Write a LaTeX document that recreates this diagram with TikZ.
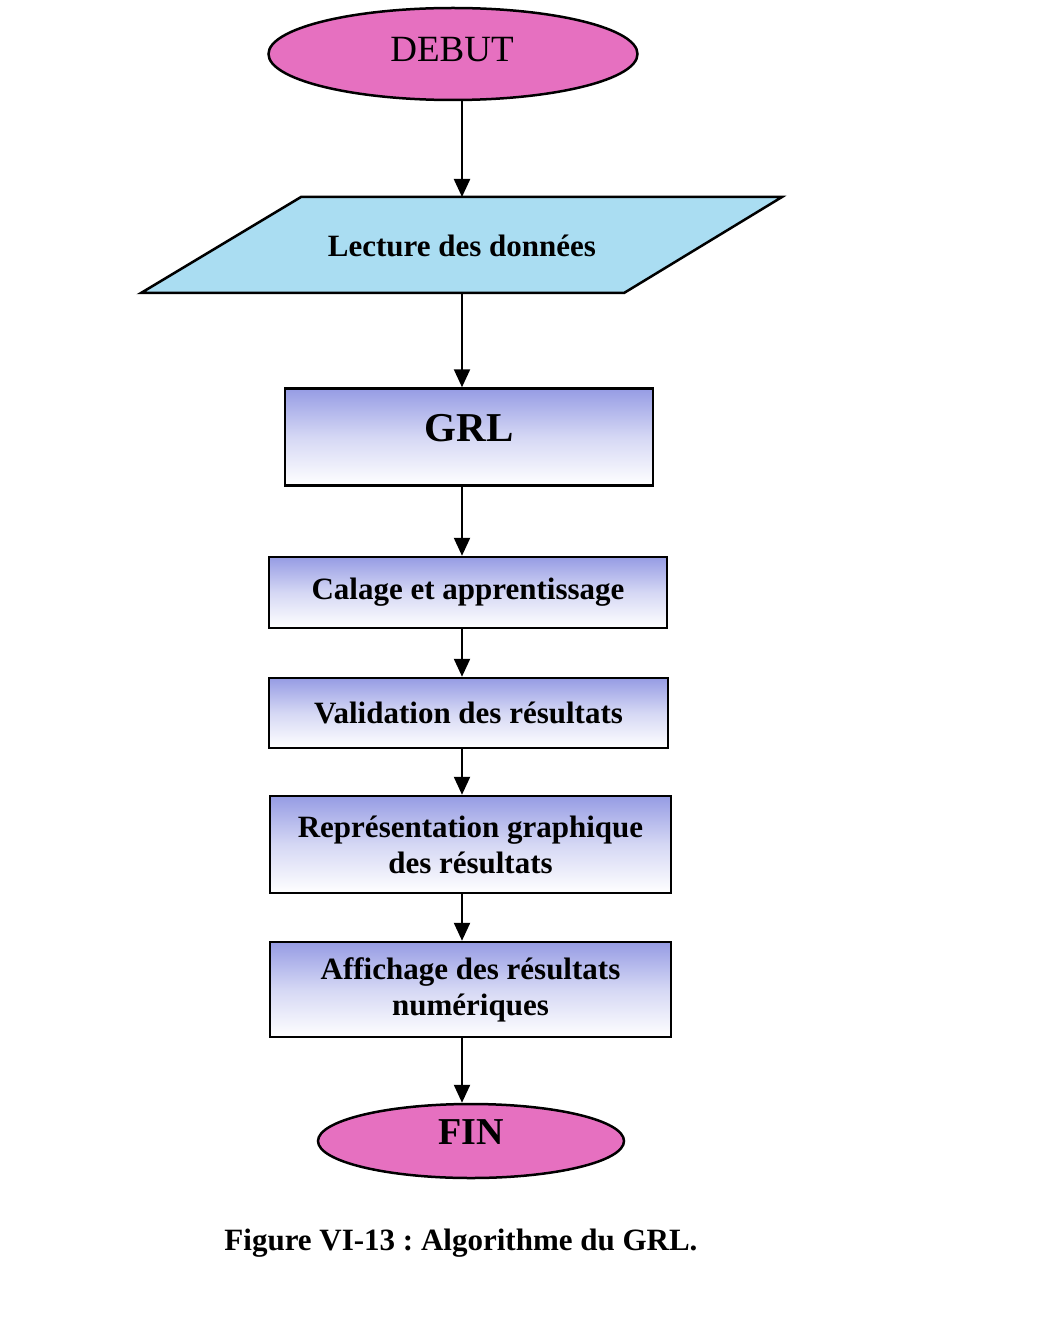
\documentclass[tikz,border=0pt]{standalone}
\usepackage{fontspec}
\setmainfont{Liberation Serif}
\frenchspacing
\usetikzlibrary{arrows.meta,shapes.geometric}
\definecolor{pinkfill}{RGB}{230,112,192}
\definecolor{lightblue}{RGB}{170,221,242}
\definecolor{periw}{RGB}{150,156,228}
\tikzset{
  boxnode/.style={draw=black, line width=2.5pt, rectangle, inner sep=0pt,
    top color=periw, bottom color=white, middle color=periw!40!white,
    shading angle=0},
  ovalnode/.style={draw=black, line width=2.5pt, ellipse, fill=pinkfill, inner sep=0pt},
  lbl/.style={font=\fontsize{31}{36}\selectfont\bfseries, align=center, inner sep=0pt},
  arr/.style={line width=2.3pt, -{Triangle[length=18pt,width=16pt]}}
}
\begin{document}
\begin{tikzpicture}[x=1pt,y=-1pt]
\useasboundingbox[fill=white] (0,0) rectangle (1058,1321);
\coordinate (ax) at (462,0);
% DEBUT
\node[ovalnode, minimum width=369pt, minimum height=92pt] (debut) at (453,54) {};
\node[font=\fontsize{37}{40}\selectfont, inner sep=0pt] (debuttxt) at (452,50) {DEBUT};
% Lecture parallelogram
\coordinate (lectop) at (462,197);
\coordinate (lecbot) at (462,293);
\draw[line width=2.5pt, fill=lightblue, line join=miter] (301,197) -- (782,197) -- (624,293) -- (141,293) -- cycle;
\node[lbl] (lecture) at (462,246) {Lecture des données};
% GRL
\node[boxnode, minimum width=368pt, minimum height=97pt] (grl) at (469,437) {};
\node[font=\fontsize{41}{44}\selectfont\bfseries, inner sep=0pt] (grltxt) at (469,428) {GRL};
% Calage
\node[boxnode, minimum width=398pt, minimum height=71pt, lbl] (calage) at (468,592.5) {Calage et apprentissage};
% Validation
\node[boxnode, minimum width=399pt, minimum height=70pt, lbl] (valid) at (468.5,713) {Validation des résultats};
% Representation
\node[boxnode, minimum width=401pt, minimum height=97pt, lbl] (repr) at (470.5,844.5) {Représentation graphique\\des résultats};
% Affichage
\node[boxnode, minimum width=401pt, minimum height=95pt, lbl] (affich) at (470.5,989.5) {Affichage des résultats\\numériques};
% FIN
\node[ovalnode, minimum width=306pt, minimum height=74pt] (fin) at (471,1141) {};
\node[font=\fontsize{38}{40}\selectfont\bfseries, inner sep=0pt] (fintxt) at (471,1132) {FIN};
% caption
\node[lbl] (caption) at (461,1243) {Figure VI-13 : Algorithme du GRL.};
% connectors
\draw[arr] (debut.south -| ax) -- (lectop);
\draw[arr] (lecbot) -- (grl.north -| ax);
\draw[arr] (grl.south -| ax) -- (calage.north -| ax);
\draw[arr] (calage.south -| ax) -- (valid.north -| ax);
\draw[arr] (valid.south -| ax) -- (repr.north -| ax);
\draw[arr] (repr.south -| ax) -- (affich.north -| ax);
\draw[arr] (affich.south -| ax) -- (fin.north -| ax);
\end{tikzpicture}
\end{document}
